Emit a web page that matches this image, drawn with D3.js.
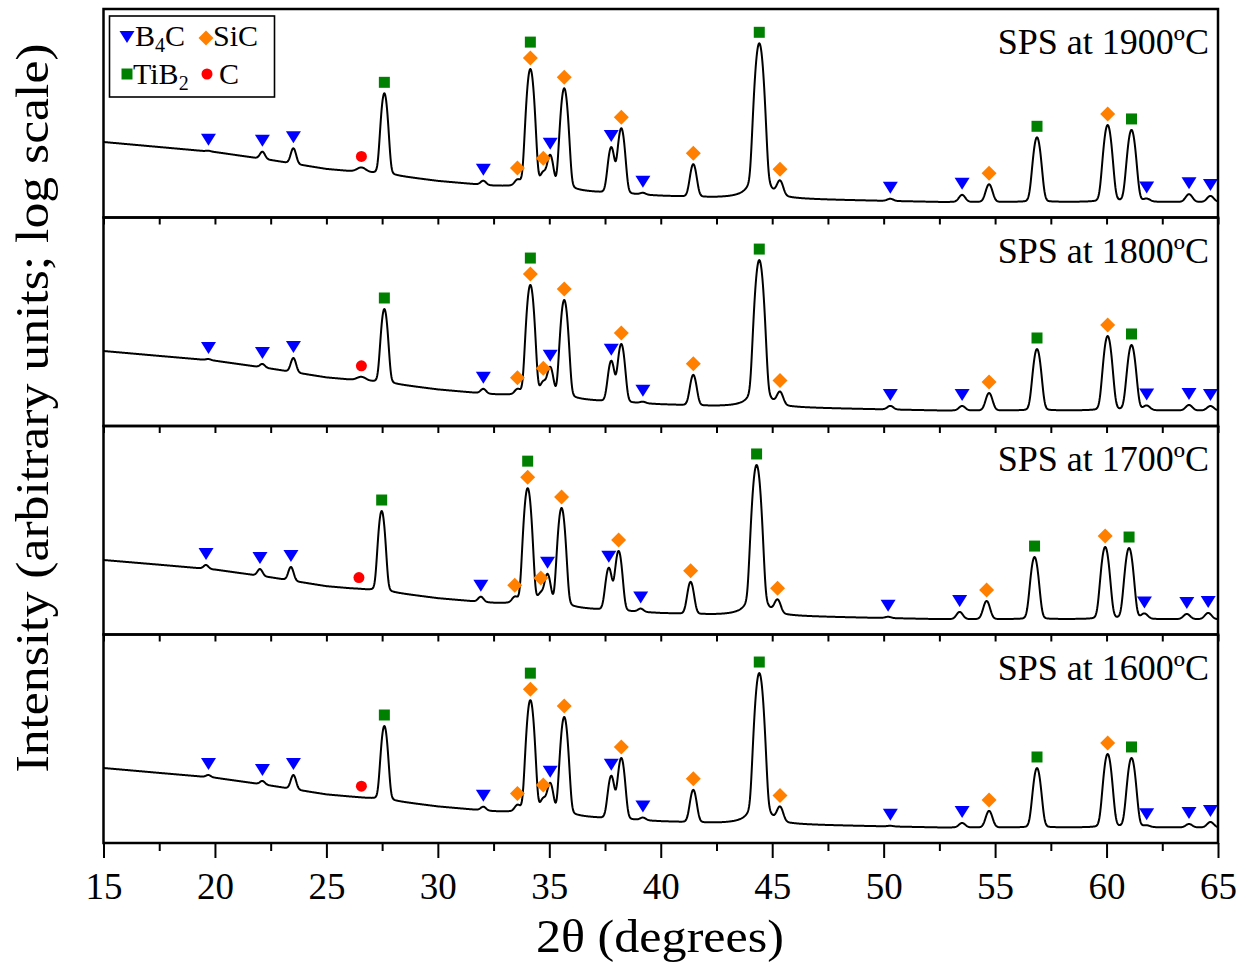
<!DOCTYPE html>
<html>
<head>
<meta charset="utf-8">
<script src="https://cdn.jsdelivr.net/npm/d3@7"></script>
<style>
  html, body { margin: 0; padding: 0; background: #fff; }
  svg { display: block; }
  text { font-family: "Liberation Serif", "Times New Roman", serif; fill: #000; }
</style>
</head>
<body>
<svg id="chart" width="1254" height="967"></svg>
<script>
// ---- data -------------------------------------------------------------
const panelLabels = ["SPS at 1900ºC", "SPS at 1800ºC", "SPS at 1700ºC", "SPS at 1600ºC"];
const xTickValues = [15, 20, 25, 30, 35, 40, 45, 50, 55, 60, 65];

// background intensity (arbitrary units) sampled every 2.5 degrees
const bgAngles = [15, 17.5, 20, 22.5, 25, 27.5, 30, 32.5, 35, 37.5, 40, 42.5, 45, 47.5, 50, 52.5, 55, 57.5, 60, 62.5, 65];
const bg1900 = [1220, 1033, 875, 672, 499, 423, 335, 284, 257, 225, 204, 191, 185, 179, 173, 167, 167, 167, 167, 167, 167];
const bg1800 = [1200, 1020, 870, 670, 500, 423, 335, 284, 257, 225, 204, 191, 185, 179, 173, 167, 167, 167, 167, 167, 167];
const bg1700 = [1180, 1010, 860, 665, 495, 420, 332, 282, 255, 223, 202, 190, 184, 178, 172, 166, 166, 166, 166, 166, 166];
const bg1600 = [1200, 1020, 870, 670, 500, 423, 335, 284, 257, 225, 204, 191, 185, 179, 173, 167, 167, 167, 167, 167, 167];

// reflections: [2theta, peak-top intensity, phases]
const peaks1900 = [
  [19.71, 914, ["B4C"]], [22.13, 885, ["B4C"]], [23.52, 991, ["B4C"]], [26.57, 521, ["C"]],
  [27.60, 6120, ["TiB2"]], [32.04, 335, ["B4C"]], [33.57, 324, ["SiC"]], [34.15, 13700, ["SiC", "TiB2"]],
  [34.73, 409, ["SiC"]], [35.04, 767, ["B4C"]], [35.67, 7230, ["SiC"]], [37.78, 1023, ["B4C"]],
  [38.23, 1920, ["SiC"]], [39.20, 223, ["B4C"]], [41.46, 582, ["SiC"]], [44.42, 32100, ["TiB2"]],
  [45.35, 310, ["SiC"]], [50.30, 185, ["B4C"]], [53.52, 211, ["B4C"]], [54.73, 300, ["SiC"]],
  [56.88, 1425, ["TiB2"]], [60.05, 2140, ["SiC"]], [61.12, 1817, ["TiB2"]], [61.80, 183, ["B4C"]],
  [63.70, 216, ["B4C"]], [64.66, 204, ["B4C"]]
];
const peaks1800 = [
  [19.71, 920, ["B4C"]], [22.13, 780, ["B4C"]], [23.52, 951, ["B4C"]], [26.57, 507, ["C"]],
  [27.60, 4825, ["TiB2"]], [32.04, 340, ["B4C"]], [33.57, 319, ["SiC"]], [34.15, 10700, ["SiC", "TiB2"]],
  [34.73, 402, ["SiC"]], [35.04, 684, ["B4C"]], [35.67, 6500, ["SiC"]], [37.78, 861, ["B4C"]],
  [38.23, 1513, ["SiC"]], [39.20, 221, ["B4C"]], [41.46, 542, ["SiC"]], [44.42, 24400, ["TiB2"]],
  [45.35, 289, ["SiC"]], [50.30, 194, ["B4C"]], [53.52, 194, ["B4C"]], [54.73, 298, ["SiC"]],
  [56.88, 1282, ["TiB2"]], [60.05, 1972, ["SiC"]], [61.12, 1463, ["TiB2"]], [61.80, 194, ["B4C"]],
  [63.70, 200, ["B4C"]], [64.66, 194, ["B4C"]]
];
const peaks1700 = [
  [19.60, 1000, ["B4C"]], [22.02, 875, ["B4C"]], [23.41, 935, ["B4C"]], [26.46, 452, ["C"]],
  [27.48, 5980, ["TiB2"]], [31.93, 347, ["B4C"]], [33.45, 324, ["SiC"]], [34.03, 12800, ["SiC", "TiB2"]],
  [34.62, 358, ["SiC"]], [34.92, 718, ["B4C"]], [35.55, 6610, ["SiC"]], [37.67, 905, ["B4C"]],
  [38.11, 1590, ["SiC"]], [39.10, 233, ["B4C"]], [41.34, 569, ["SiC"]], [44.30, 27500, ["TiB2"]],
  [45.24, 294, ["SiC"]], [50.20, 179, ["B4C"]], [53.41, 211, ["B4C"]], [54.62, 303, ["SiC"]],
  [56.77, 1303, ["TiB2"]], [59.94, 1817, ["SiC"]], [61.01, 1757, ["TiB2"]], [61.70, 197, ["B4C"]],
  [63.60, 197, ["B4C"]], [64.56, 204, ["B4C"]]
];
const peaks1600 = [
  [19.71, 951, ["B4C"]], [22.13, 780, ["B4C"]], [23.52, 951, ["B4C"]], [26.57, 430, ["C"]],
  [27.60, 4825, ["TiB2"]], [32.04, 330, ["B4C"]], [33.57, 330, ["SiC"]], [34.15, 11400, ["SiC", "TiB2"]],
  [34.73, 402, ["SiC"]], [35.04, 706, ["B4C"]], [35.67, 6500, ["SiC"]], [37.78, 920, ["B4C"]],
  [38.23, 1672, ["SiC"]], [39.20, 229, ["B4C"]], [41.46, 579, ["SiC"]], [44.42, 27900, ["TiB2"]],
  [45.35, 308, ["SiC"]], [50.30, 176, ["B4C"]], [53.52, 194, ["B4C"]], [54.73, 289, ["SiC"]],
  [56.88, 1200, ["TiB2"]], [60.05, 1910, ["SiC"]], [61.12, 1672, ["TiB2"]], [61.80, 176, ["B4C"]],
  [63.70, 187, ["B4C"]], [64.66, 200, ["B4C"]]
];

const panelBackgrounds = [bg1900, bg1800, bg1700, bg1600];
const panelPeaks = [peaks1900, peaks1800, peaks1700, peaks1600];

const phaseColors = { B4C: "#0000ff", SiC: "#ff8000", TiB2: "#008000", C: "#ff0000" };

// ---- layout -----------------------------------------------------------
const svg = d3.select("#chart");
const plotLeft = 103.5, plotRight = 1218, plotTop = 9, plotBottom = 843;
const nPanels = panelLabels.length;
const panelH = (plotBottom - plotTop) / nPanels;

const x = d3.scaleLinear().domain([15, 65]).range([plotLeft, plotRight]);

// angular grid on which patterns are evaluated
const grid = d3.range(15, 65.0001, 0.02);

function makeBackground(values) {
  const s = d3.scaleLinear().domain(bgAngles).range(values.map(Math.log10));
  return a => Math.pow(10, s(a));
}

// pseudo-Voigt reflection profile
function profileAt(a, peaks, bg) {
  let v = bg(a);
  for (const p of peaks) {
    const c = p[0];
    const amp = p[1] - bg(c);
    if (amp <= 0) continue;
    const fwhm = (p[2][0] === "C" ? 0.45 : 0.24 + 0.002 * (c - 15));
    const d = (a - c) / fwhm;
    const gauss = Math.exp(-4 * Math.LN2 * d * d);
    const lor = 1 / (1 + 4 * d * d);
    v += amp * (0.96 * gauss + 0.04 * lor);
  }
  return v;
}

const markerPath = {
  B4C: "M-7.5,-6L7.5,-6L0,6Z",
  SiC: "M0,-7.5L7.5,0L0,7.5L-7.5,0Z",
  TiB2: "M-5.5,-5.5L5.5,-5.5L5.5,5.5L-5.5,5.5Z",
  C: d3.symbol(d3.symbolCircle, Math.PI * 5.5 * 5.5)()
};

panelLabels.forEach((label, i) => {
  const y0 = plotTop + i * panelH, y1 = y0 + panelH;
  const y = d3.scaleLog().domain([100, 1e5]).range([y1, y0]);
  const bg = makeBackground(panelBackgrounds[i]);
  const peaks = panelPeaks[i];
  const g = svg.append("g");

  const pts = grid.map(a => [a, profileAt(a, peaks, bg)]);
  g.append("path")
    .datum(pts)
    .attr("fill", "none")
    .attr("stroke", "#000")
    .attr("stroke-width", 2)
    .attr("stroke-linejoin", "round")
    .attr("d", d3.line().x(d => x(d[0])).y(d => y(d[1])));

  // phase markers above each reflection
  peaks.forEach(p => {
    const local = pts.filter(d => Math.abs(d[0] - p[0]) <= 0.1);
    const peakY = y(d3.max(local, d => d[1]));
    p[2].forEach((ph, k) => {
      g.append("path")
        .attr("d", markerPath[ph])
        .attr("fill", phaseColors[ph])
        .attr("transform", `translate(${x(p[0])},${peakY - 11 - k * 16})`);
    });
  });

  // panel axis
  const isLast = i === nPanels - 1;
  const axis = d3.axisBottom(x)
    .tickValues(d3.range(15, 65.01, 2.5))
    .tickSizeOuter(0)
    .tickFormat(d => (isLast && xTickValues.includes(d)) ? d : "");
  const ax = g.append("g").attr("transform", `translate(0,${y1})`).call(axis);
  ax.select(".domain").remove();
  ax.selectAll(".tick line")
    .attr("stroke", "#000")
    .attr("stroke-width", 2)
    .attr("y2", d => isLast ? (xTickValues.includes(d) ? 15 : 8) : 7);
  ax.selectAll(".tick text")
    .attr("y", 56)
    .attr("dy", null)
    .style("font-family", "'Liberation Serif', serif")
    .style("font-size", "37px")
    .attr("fill", "#000");

  g.append("rect")
    .attr("x", plotLeft).attr("y", y0)
    .attr("width", plotRight - plotLeft).attr("height", panelH)
    .attr("fill", "none").attr("stroke", "#000").attr("stroke-width", 2.5);

  g.append("text")
    .attr("x", 1209).attr("y", y0 + 45)
    .attr("text-anchor", "end")
    .style("font-size", "36px")
    .text(label);
});

// legend
const lg = svg.append("g");
lg.append("rect").attr("x", 109.5).attr("y", 16).attr("width", 165).attr("height", 81)
  .attr("fill", "#fff").attr("stroke", "#000").attr("stroke-width", 1.6);
const legendItems = [
  { ph: "B4C", base: "B", sub: "4", tail: "C", mx: 127, my: 37, tx: 135, ty: 46 },
  { ph: "SiC", base: "SiC", sub: "", tail: "", mx: 206, my: 38, tx: 213, ty: 46 },
  { ph: "TiB2", base: "TiB", sub: "2", tail: "", mx: 127, my: 74, tx: 133, ty: 84 },
  { ph: "C", base: "C", sub: "", tail: "", mx: 207, my: 74, tx: 219, ty: 84 }
];
legendItems.forEach(it => {
  lg.append("path").attr("d", markerPath[it.ph]).attr("fill", phaseColors[it.ph])
    .attr("transform", `translate(${it.mx},${it.my})`);
  const t = lg.append("text").attr("x", it.tx).attr("y", it.ty).style("font-size", "30px");
  t.append("tspan").text(it.base);
  if (it.sub) t.append("tspan").attr("dy", 6).style("font-size", "20px").text(it.sub);
  if (it.tail) t.append("tspan").attr("dy", -6).text(it.tail);
});

// axis titles
svg.append("text")
  .attr("transform", "translate(660,952) scale(1.09,1)")
  .attr("text-anchor", "middle")
  .style("font-size", "46px")
  .text("2θ (degrees)");

svg.append("text")
  .attr("transform", "translate(48,408) rotate(-90) scale(1.1,1)")
  .attr("text-anchor", "middle")
  .style("font-size", "47px")
  .text("Intensity (arbitrary units; log scale)");
</script>
</body>
</html>
